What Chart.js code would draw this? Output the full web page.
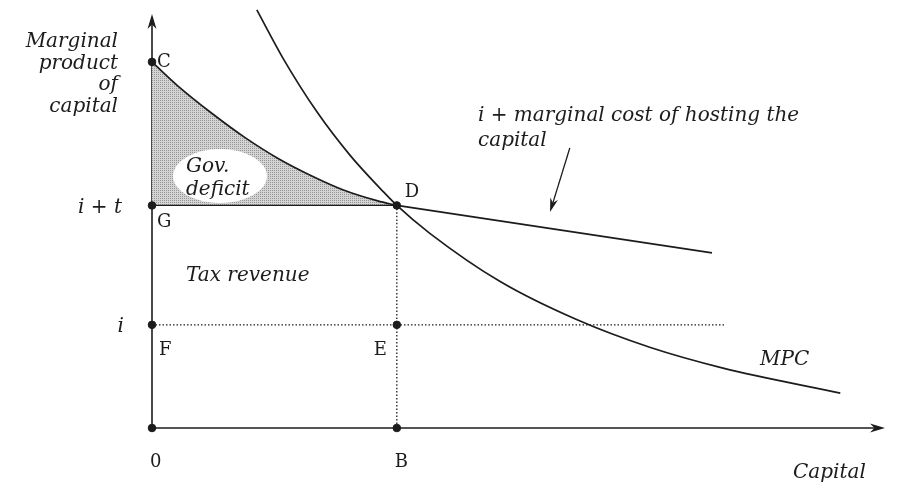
<!DOCTYPE html>
<html lang="en">
<head>
  <meta charset="UTF-8" />
  <title>Marginal product of capital</title>
  <script src="https://cdn.jsdelivr.net/npm/chart.js"></script>
  <style>
    html, body { margin: 0; padding: 0; background: #fff; }
    #wrap { width: 897px; height: 484px; }
  </style>
</head>
<body>
  <div id="wrap"><canvas id="chart"></canvas></div>
  <script>
    // capital on x, marginal product on y (arbitrary units, 0..100)
    const mpcX = [14.3, 17.9, 22.5, 27.0, 31.5, 33.4, 37.9, 47.5, 58.0, 67.9, 77.9, 93.9];
    const mpcY = [100.5, 88.8, 76.0, 65.6, 56.9, 53.5, 46.8, 35.2, 26.0, 19.4, 14.4, 8.4];

    // i + marginal cost of hosting the capital
    const costX = [0, 3.55, 8.2, 12.7, 17.2, 21.8, 26.3, 30.8, 33.4, 76.4];
    const costY = [88.0, 82.2, 75.6, 69.8, 64.8, 60.6, 57.1, 54.6, 53.5, 42.1];

    const rateTax = 53.5;   // i + t
    const rateI = 24.8;     // i
    const capitalB = 33.4;  // B
    const iLineEnd = 78.2;

    const pointNames = ['C', 'G', 'F', '0', 'D', 'E', 'B'];
    const pointX = [0, 0, 0, 0, capitalB, capitalB, capitalB];
    const pointY = [88.0, rateTax, rateI, 0, rateTax, rateI, 0];

    // little pixel nudges for the point letters
    const nameOffsets = {
      C: [5, 5, 'left'], G: [5, 22, 'left'], F: [7, 30, 'left'], '0': [-2, 39, 'left'],
      D: [8, -8, 'left'], E: [-10, 30, 'right'], B: [-2, 39, 'left']
    };

    const ink = '#1c1c1c';
    const serif = '"DejaVu Serif", "Liberation Serif", serif';

    function toXY(xs, ys) {
      return xs.map((x, i) => ({ x: x, y: ys[i] }));
    }

    // stippled grey like the print
    function stipple() {
      const c = document.createElement('canvas');
      c.width = 2; c.height = 2;
      const g = c.getContext('2d');
      g.fillStyle = '#d4d4d4';
      g.fillRect(0, 0, 2, 2);
      g.fillStyle = '#969696';
      g.fillRect(0, 0, 1, 1);
      return g.createPattern(c, 'repeat');
    }

    const costPts = toXY(costX, costY);
    const deficitPts = costPts.filter(p => p.x <= capitalB);
    const tailPts = costPts.filter(p => p.x >= capitalB);

    function arrow(ctx, x1, y1, x2, y2, len, half) {
      const a = Math.atan2(y2 - y1, x2 - x1);
      ctx.beginPath();
      ctx.moveTo(x1, y1);
      ctx.lineTo(x2 - Math.cos(a) * len * 0.6, y2 - Math.sin(a) * len * 0.6);
      ctx.stroke();
      ctx.beginPath();
      ctx.moveTo(x2, y2);
      ctx.lineTo(x2 - Math.cos(a) * len + Math.sin(a) * half, y2 - Math.sin(a) * len - Math.cos(a) * half);
      ctx.lineTo(x2 - Math.cos(a) * len * 0.7, y2 - Math.sin(a) * len * 0.7);
      ctx.lineTo(x2 - Math.cos(a) * len - Math.sin(a) * half, y2 - Math.sin(a) * len + Math.cos(a) * half);
      ctx.closePath();
      ctx.fill();
    }

    const axesPlugin = {
      id: 'axes',
      beforeDatasetsDraw(chart) {
        const { ctx, chartArea: a } = chart;
        ctx.save();
        ctx.strokeStyle = ink;
        ctx.fillStyle = ink;
        ctx.lineWidth = 1.6;
        arrow(ctx, a.left, a.bottom, a.left, a.top + 2, 15, 4.5);
        arrow(ctx, a.left, a.bottom, a.right, a.bottom, 15, 4.5);
        ctx.restore();
      },
      afterDatasetsDraw(chart) {
        const { ctx, chartArea: a, scales } = chart;
        const sx = scales.x, sy = scales.y;
        ctx.save();
        ctx.strokeStyle = ink;

        // white patch behind "Gov. deficit"
        ctx.fillStyle = '#fff';
        ctx.beginPath();
        ctx.ellipse(a.left + 68, 176, 47, 27, 0, 0, Math.PI * 2);
        ctx.fill();

        // pointer to the cost line
        ctx.fillStyle = ink;
        ctx.lineWidth = 1.3;
        arrow(ctx, sx.getPixelForValue(57.0), sy.getPixelForValue(67.3),
          sx.getPixelForValue(54.3), sy.getPixelForValue(51.9), 14, 4);

        // point letters
        ctx.font = '18px ' + serif;
        pointNames.forEach((n, i) => {
          const o = nameOffsets[n];
          ctx.textAlign = o[2];
          ctx.fillText(n, sx.getPixelForValue(pointX[i]) + o[0], sy.getPixelForValue(pointY[i]) + o[1]);
        });

        ctx.font = 'italic 20px ' + serif;
        ctx.textAlign = 'right';
        ['Marginal', 'product', 'of', 'capital'].forEach((t, i) => {
          ctx.fillText(t, a.left - 34, 47 + i * 21.7);
        });
        ctx.fillText('i + t', a.left - 30, sy.getPixelForValue(rateTax) + 8);
        ctx.fillText('i', a.left - 28, sy.getPixelForValue(rateI) + 7);

        ctx.textAlign = 'left';
        ctx.fillText('Gov.', a.left + 34, 172);
        ctx.fillText('deficit', a.left + 34, 195);
        ctx.fillText('Tax revenue', a.left + 34, 281);
        ctx.fillText('i + marginal cost of hosting the', 478, 121);
        ctx.fillText('capital', 478, 146);
        ctx.fillText('MPC', 760, 365);
        ctx.fillText('Capital', 793, 478);
        ctx.restore();
      }
    };

    const line = (data, extra) => Object.assign({
      data: data,
      borderColor: ink,
      borderWidth: 1.7,
      pointRadius: 0,
      fill: false,
      clip: false,
      cubicInterpolationMode: 'monotone'
    }, extra);

    const chart = new Chart(document.getElementById('chart'), {
      type: 'line',
      data: {
        datasets: [
          {
            type: 'scatter',
            data: toXY(pointX, pointY),
            backgroundColor: ink,
            borderColor: ink,
            pointRadius: 3.8,
            clip: false
          },
          line(toXY(mpcX, mpcY)),
          line(tailPts),
          line([{ x: 0, y: rateTax }, { x: capitalB, y: rateTax }], { borderWidth: 1.3 }),
          line([{ x: 0, y: rateI }, { x: iLineEnd, y: rateI }], { borderWidth: 1.3, borderDash: [1.5, 2] }),
          line([{ x: capitalB, y: rateTax }, { x: capitalB, y: 0 }], { borderWidth: 1.3, borderDash: [1.5, 2] }),
          line(deficitPts, { fill: { value: rateTax }, backgroundColor: stipple() })
        ]
      },
      options: {
        responsive: true,
        maintainAspectRatio: false,
        animation: false,
        layout: { padding: { left: 152, right: 12, top: 12, bottom: 56 } },
        plugins: { legend: { display: false }, tooltip: { enabled: false } },
        scales: {
          x: { type: 'linear', min: 0, max: 100, display: false },
          y: { min: 0, max: 100, display: false }
        }
      },
      plugins: [axesPlugin]
    });
  </script>
</body>
</html>
